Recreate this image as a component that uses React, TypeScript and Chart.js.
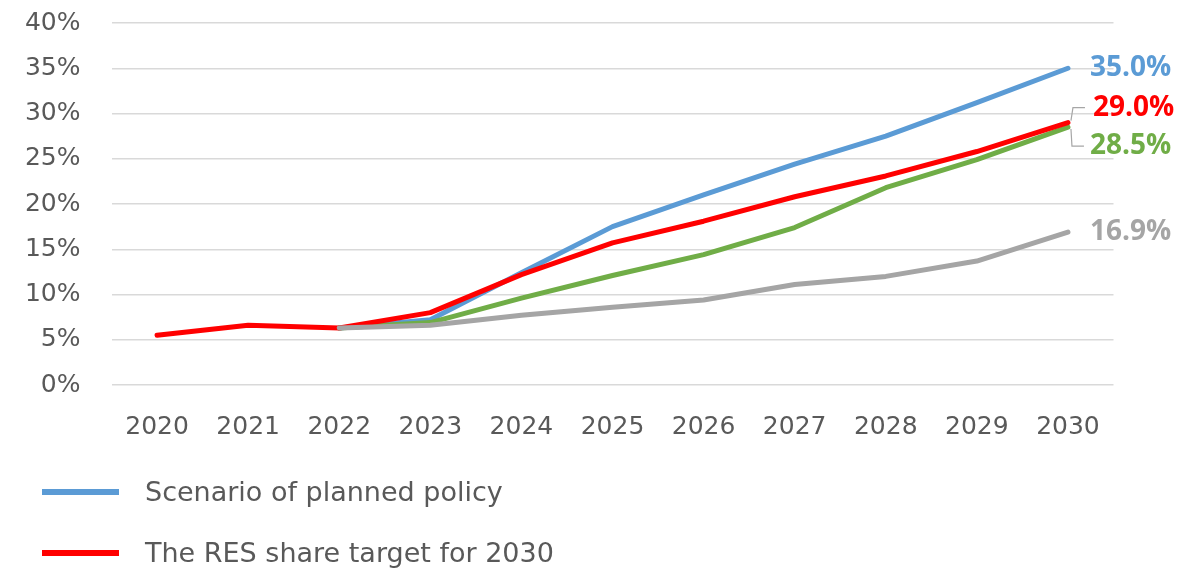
import React, { useEffect, useRef } from "react";
import { Chart, registerables } from "chart.js";

Chart.register(...registerables);

const years = ["2020", "2021", "2022", "2023", "2024", "2025", "2026", "2027", "2028", "2029", "2030"];
const plannedPolicy = [null, null, 6.3, 7.2, 12.4, 17.5, 21.0, 24.4, 27.5, 31.2, 35.0];
const resTarget = [5.5, 6.6, 6.3, 8.0, 12.2, 15.7, 18.1, 20.8, 23.1, 25.8, 29.0];
const greenScenario = [null, null, 6.3, 6.9, 9.6, 12.1, 14.4, 17.4, 21.8, 24.9, 28.5];
const grayScenario = [null, null, 6.3, 6.6, 7.7, 8.6, 9.4, 11.1, 12.0, 13.7, 16.9];
const yTicks = [0, 5, 10, 15, 20, 25, 30, 35, 40];

const BLUE = "#5b9bd5";
const RED = "#ff0000";
const GREEN = "#70ad47";
const GRAY = "#a5a5a5";
const TEXT = "#595959";
const FONT = "'DejaVu Sans', sans-serif";
const LABEL_FONT = "'Open Sans', sans-serif";

const endLabels = {
  id: "endLabels",
  afterDatasetsDraw(chart: any) {
    const ctx = chart.ctx;
    ctx.save();
    ctx.font = `bold 28px ${LABEL_FONT}`;
    ctx.textBaseline = "middle";
    ctx.textAlign = "left";
    chart.data.datasets.forEach((ds: any, i: number) => {
      const meta = chart.getDatasetMeta(i);
      const pt = meta.data[meta.data.length - 1];
      if (!pt) return;
      const v = ds.data[ds.data.length - 1];
      const txt = v.toFixed(1) + "%";
      let dy = 0;
      let dx = 22;
      if (ds.key === "red") {
        dy = -15;
        dx = 25;
        ctx.strokeStyle = "#a6a6a6";
        ctx.lineWidth = 1.2;
        ctx.beginPath();
        ctx.moveTo(pt.x + 3, pt.y - 2);
        ctx.lineTo(pt.x + 5, pt.y + dy);
        ctx.lineTo(pt.x + 17, pt.y + dy);
        ctx.stroke();
      } else if (ds.key === "green") {
        dy = 19;
        ctx.strokeStyle = "#a6a6a6";
        ctx.lineWidth = 1.2;
        ctx.beginPath();
        ctx.moveTo(pt.x + 3, pt.y + 2);
        ctx.lineTo(pt.x + 4, pt.y + dy);
        ctx.lineTo(pt.x + 16, pt.y + dy);
        ctx.stroke();
      }
      ctx.fillStyle = ds.borderColor;
      ctx.fillText(txt, pt.x + dx, pt.y + dy);
    });
    ctx.restore();
  },
};

export default function App() {
  const ref = useRef<HTMLCanvasElement | null>(null);
  useEffect(() => {
    if (!ref.current) return;
    const lineDs = (label: string, data: any[], color: string, key: string) => ({
      label,
      data,
      key,
      borderColor: color,
      backgroundColor: color,
      borderWidth: 5,
      pointRadius: 0,
      tension: 0,
      borderCapStyle: "round",
      borderJoinStyle: "round",
      spanGaps: false,
    });
    const chart = new Chart(ref.current, {
      type: "line",
      data: {
        labels: years,
        datasets: [
          lineDs("Scenario of existing policy", grayScenario, GRAY, "gray"),
          lineDs("The RES share target for 2030", resTarget, RED, "red"),
          lineDs("Additional scenario", greenScenario, GREEN, "green"),
          lineDs("Scenario of planned policy", plannedPolicy, BLUE, "blue"),
        ] as any,
      },
      options: {
        responsive: false,
        animation: false,
        layout: { padding: { left: 0, right: 80.5, top: 23, bottom: 132 } },
        plugins: { legend: { display: false }, tooltip: { enabled: false } },
        scales: {
          x: {
            offset: true,
            grid: { display: false },
            border: { display: false },
            ticks: { color: TEXT, font: { family: FONT, size: 25 }, padding: 19, maxRotation: 0 },
            afterFit: (s: any) => {
              s.height = 60;
              s.paddingLeft = 0;
              s.paddingRight = 0;
            },
          },
          y: {
            min: 0,
            max: 40,
            afterBuildTicks: (s: any) => {
              s.ticks = yTicks.map((v) => ({ value: v }));
            },
            grid: { color: "#d9d9d9", lineWidth: 1.5, drawTicks: false },
            border: { display: false },
            ticks: {
              color: TEXT,
              font: { family: FONT, size: 25 },
              padding: 31,
              callback: (v: any) => v + "%",
            },
            afterFit: (s: any) => {
              s.width = 111.5;
              s.paddingTop = 0;
              s.paddingBottom = 0;
            },
          },
        },
      },
      plugins: [endLabels],
    });
    return () => chart.destroy();
  }, []);

  const legendItem = (color: string, text: string, y: number) => (
    <div style={{ position: "absolute", left: 0, top: y - 20, height: 40, width: 700 }}>
      <div style={{ position: "absolute", left: 42, top: 17, width: 77, height: 6, background: color }} />
      <div
        style={{
          position: "absolute",
          left: 145,
          top: 0,
          lineHeight: "40px",
          fontFamily: FONT,
          fontSize: 27,
          color: TEXT,
          whiteSpace: "nowrap",
        }}
      >
        {text}
      </div>
    </div>
  );

  return (
    <div style={{ position: "fixed", left: 0, top: 0, width: 1194, height: 577, background: "#fff", overflow: "hidden" }}>
      <canvas ref={ref} width={1194} height={577} style={{ position: "absolute", left: 0, top: 0 }} />
      {legendItem(BLUE, "Scenario of planned policy", 492)}
      {legendItem(RED, "The RES share target for 2030", 553)}
    </div>
  );
}
